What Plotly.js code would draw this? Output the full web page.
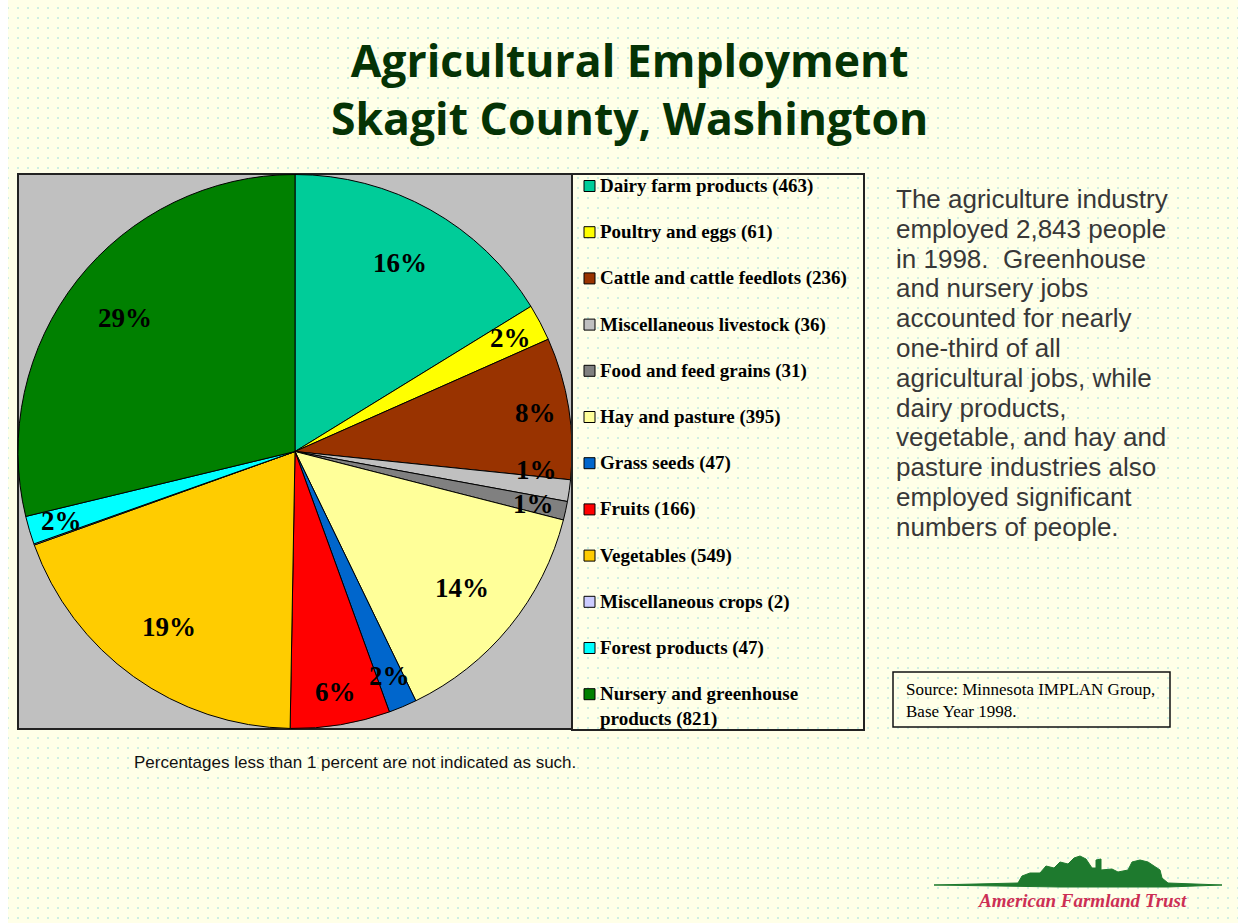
<!DOCTYPE html>
<html>
<head>
<meta charset="utf-8">
<script src="https://cdn.plot.ly/plotly-3.0.1.min.js"></script>
<style>
  html, body { margin: 0; padding: 0; background: #ffffff; }
  #chart {
    width: 1238px; height: 923px;
    background-color: #FFFFE8;
    background-image: radial-gradient(circle, #CDEFE2 0.9px, rgba(0,0,0,0) 1.3px);
    background-size: 10px 10px;
    background-position: 3px 3px;
  }
</style>
</head>
<body>
<div id="chart"></div>
<script>
// ---- data ----
const categories = [
  "Dairy farm products", "Poultry and eggs", "Cattle and cattle feedlots",
  "Miscellaneous livestock", "Food and feed grains", "Hay and pasture",
  "Grass seeds", "Fruits", "Vegetables", "Miscellaneous crops",
  "Forest products", "Nursery and greenhouse products"
];
const employees = [463, 61, 236, 36, 31, 395, 47, 166, 549, 2, 47, 821];
const colors = [
  "#00CC99", "#FFFF00", "#993300", "#C0C0C0", "#808080", "#FFFF99",
  "#0066CC", "#FF0000", "#FFCC00", "#CCCCFF", "#00FFFF", "#008000"
];
const titleLines = ["Agricultural Employment", "Skagit County, Washington"];
const noteLines = [
  "The agriculture industry", "employed 2,843 people", "in 1998.  Greenhouse",
  "and nursery jobs", "accounted for nearly", "one-third of all",
  "agricultural jobs, while", "dairy products,", "vegetable, and hay and",
  "pasture industries also", "employed significant", "numbers of people."
];
const sourceLines = ["Source: Minnesota IMPLAN Group,", "Base Year 1998."];
const footnote = "Percentages less than 1 percent are not indicated as such.";
const logoText = "American Farmland Trust";

// ---- layout helpers (pixel -> paper) ----
const W = 1238, H = 923;
const px = x => x / W;
const py = y => 1 - y / H;

const box = {x0: 18, x1: 572, y0: 174, y1: 729};
const legendBox = {x0: 572, x1: 864, y0: 174, y1: 730};
const cx = (box.x0 + box.x1) / 2, cy = (box.y0 + box.y1) / 2;
const R = Math.min(box.x1 - box.x0, box.y1 - box.y0) / 2;

const total = employees.reduce((a, b) => a + b, 0);
const texttemplate = employees.map(v => (v / total < 0.005 ? "" : "%{percent:.0%}"));

const shapes = [];
const annotations = [];

// white strip at left edge
shapes.push({type: "rect", xref: "paper", yref: "paper", x0: 0, x1: px(8), y0: 0, y1: 1,
  fillcolor: "#ffffff", line: {width: 0}, layer: "below"});
// grey plot area
shapes.push({type: "rect", xref: "paper", yref: "paper",
  x0: px(box.x0), x1: px(box.x1), y0: py(box.y1), y1: py(box.y0),
  fillcolor: "#C0C0C0", line: {color: "#222222", width: 2}, layer: "below"});
// legend box
shapes.push({type: "rect", xref: "paper", yref: "paper",
  x0: px(legendBox.x0), x1: px(legendBox.x1), y0: py(legendBox.y1), y1: py(legendBox.y0),
  fillcolor: "rgba(0,0,0,0)", line: {color: "#222222", width: 2}, layer: "above"});

// title
annotations.push({xref: "paper", yref: "paper", x: px(629), y: py(89), xanchor: "center", yanchor: "middle",
  text: titleLines.join("<br>"), showarrow: false,
  font: {family: "Open Sans, Noto Sans, sans-serif", size: 44.5, weight: 700, color: "#053305"}});

// percentage labels on slices (positions derived from the data)
let cum = 0;
const labelPos = [];
employees.forEach((v, i) => {
  const f = v / total;
  const mid = (cum + f / 2) * 2 * Math.PI;
  cum += f;
  if (f < 0.005) return;
  const rf = f >= 0.1 ? 0.78 : 0.88;
  labelPos.push({x: cx + rf * R * Math.sin(mid), y: cy - rf * R * Math.cos(mid), f: f});
});
// keep neighbouring labels of thin slices from overlapping
for (let k = 1; k < labelPos.length; k++) {
  const a = labelPos[k - 1], b = labelPos[k];
  if (Math.abs(a.x - b.x) < 45 && Math.abs(a.y - b.y) < 34) {
    const need = 34 - Math.abs(a.y - b.y);
    if (a.y <= b.y) a.y -= need; else a.y += need;
  }
}
labelPos.forEach(p => {
  annotations.push({xref: "paper", yref: "paper", x: px(p.x), y: py(p.y), xanchor: "center", yanchor: "middle",
    text: Math.round(p.f * 100) + "%", showarrow: false,
    font: {family: "Liberation Serif, Times New Roman, serif", size: 27, weight: 700, color: "#000000"}});
});

// legend entries
const legStep = 46.2, legTop = 186;
categories.forEach((c, i) => {
  const yc = legTop + i * legStep;
  let name = c + " (" + employees[i] + ")";
  if (c.length > 28) {
    const cut = c.lastIndexOf(" ", 24);
    name = c.slice(0, cut) + "<br>" + c.slice(cut + 1) + " (" + employees[i] + ")";
  }
  shapes.push({type: "rect", xref: "paper", yref: "paper",
    x0: px(584), x1: px(595), y0: py(yc + 5.5), y1: py(yc - 5.5),
    fillcolor: colors[i], line: {color: "#000000", width: 1}});
  annotations.push({xref: "paper", yref: "paper", x: px(598), y: py(yc - 13), xanchor: "left", yanchor: "top",
    text: name, showarrow: false, align: "left",
    font: {family: "Liberation Serif, Times New Roman, serif", size: 19, weight: 700, color: "#000000"}});
});

// right-hand note, one line at a time
noteLines.forEach((t, i) => {
  annotations.push({xref: "paper", yref: "paper", x: px(894), y: py(199 + i * 29.8), xanchor: "left", yanchor: "middle",
    text: t, showarrow: false, align: "left",
    font: {family: "Liberation Sans, Arial, sans-serif", size: 26, color: "#383838"}});
});

// source box
shapes.push({type: "rect", xref: "paper", yref: "paper",
  x0: px(893), x1: px(1170), y0: py(727), y1: py(672),
  fillcolor: "rgba(0,0,0,0)", line: {color: "#111111", width: 1.5}});
annotations.push({xref: "paper", yref: "paper", x: px(904), y: py(700), xanchor: "left", yanchor: "middle",
  text: sourceLines.join("<br>"), showarrow: false, align: "left",
  font: {family: "Liberation Serif, Times New Roman, serif", size: 17, color: "#000000"}});

// footnote
annotations.push({xref: "paper", yref: "paper", x: px(132), y: py(762), xanchor: "left", yanchor: "middle",
  text: footnote, showarrow: false,
  font: {family: "Liberation Sans, Arial, sans-serif", size: 17, color: "#111111"}});

// logo (decorative)
const pathPx = pts => "M " + pts.map(p => px(p[0]) + "," + py(p[1])).join(" L ") + " Z";
shapes.push({type: "path", xref: "paper", yref: "paper",
  path: pathPx([[934, 885], [1018, 883], [1022, 876], [1030, 873], [1040, 873], [1046, 866], [1054, 868],
    [1060, 862], [1068, 864], [1074, 858], [1080, 856], [1086, 859], [1092, 868], [1096, 868], [1096, 860],
    [1101, 859], [1101, 870], [1112, 869], [1118, 872], [1128, 870], [1132, 862], [1140, 860], [1148, 862],
    [1154, 866], [1160, 870], [1162, 878], [1168, 883], [1222, 885], [1168, 887], [1060, 887]]),
  fillcolor: "#1E7A2E", line: {color: "#1E7A2E", width: 1}});
annotations.push({xref: "paper", yref: "paper", x: px(1082), y: py(900), xanchor: "center", yanchor: "middle",
  text: "<i>" + logoText + "</i>", showarrow: false,
  font: {family: "Liberation Serif, Times New Roman, serif", size: 19, weight: 700, color: "#CC2F55"}});

const data = [{
  type: "pie",
  labels: categories,
  values: employees,
  sort: false,
  direction: "clockwise",
  rotation: 0,
  marker: {colors: colors, line: {color: "#000000", width: 1}},
  texttemplate: texttemplate,
  textposition: "none",
  hoverinfo: "label+value+percent",
  domain: {x: [px(box.x0), px(box.x1)], y: [py(box.y1), py(box.y0)]},
  showlegend: false
}];

const layout = {
  width: W, height: H,
  margin: {l: 0, r: 0, t: 0, b: 0},
  paper_bgcolor: "rgba(0,0,0,0)",
  plot_bgcolor: "rgba(0,0,0,0)",
  showlegend: false,
  shapes: shapes,
  annotations: annotations
};

Plotly.newPlot("chart", data, layout, {displayModeBar: false, staticPlot: true});
</script>
</body>
</html>
